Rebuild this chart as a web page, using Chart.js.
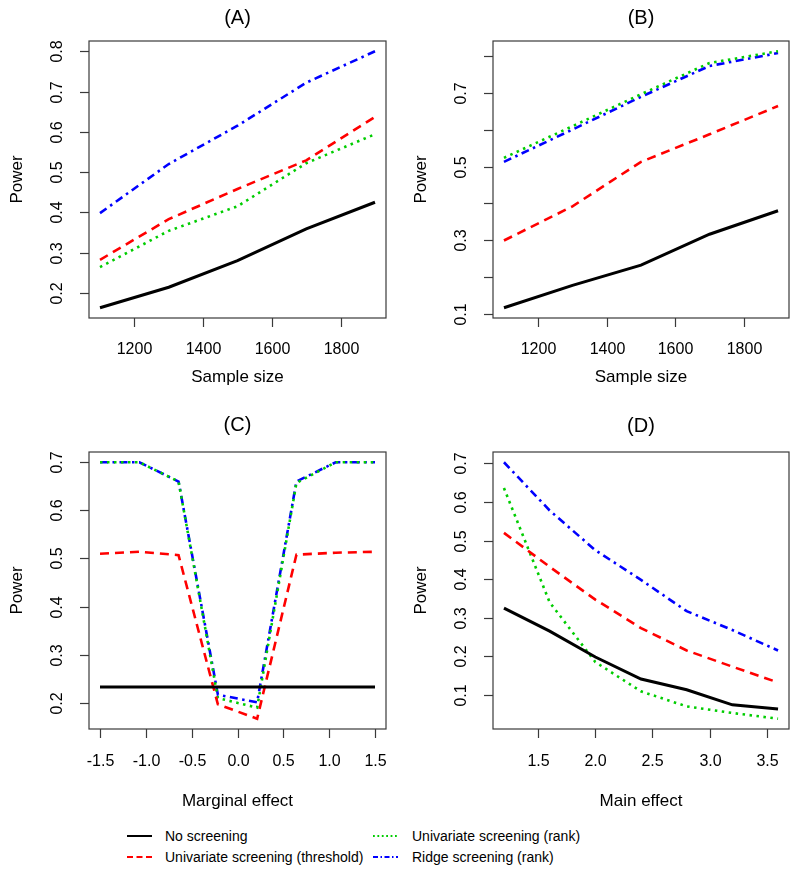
<!DOCTYPE html>
<html><head><meta charset="utf-8">
<script src="https://cdn.jsdelivr.net/npm/chart.js@4"></script>
<style>
body{margin:0;background:#fff;width:800px;height:877px;position:relative;overflow:hidden;font-family:"Liberation Sans",Arial,sans-serif}
canvas{position:absolute}
.item{position:absolute;font-size:14px;line-height:16px;color:#000;white-space:nowrap}
svg{position:absolute}
</style></head><body>
<canvas id="cA" width="400" height="400" style="left:0;top:0"></canvas>
<canvas id="cB" width="400" height="400" style="left:400px;top:0"></canvas>
<canvas id="cC" width="400" height="420" style="left:0;top:400px"></canvas>
<canvas id="cD" width="400" height="420" style="left:400px;top:400px"></canvas>

<svg width="800" height="60" style="left:0;top:820px">
  <line x1="127" y1="16" x2="152" y2="16" stroke="#000" stroke-width="2"/>
  <line x1="127" y1="37" x2="152" y2="37" stroke="#ff0000" stroke-width="2" stroke-dasharray="6 3.5"/>
  <line x1="373" y1="16" x2="398" y2="16" stroke="#00cd00" stroke-width="2" stroke-dasharray="1.8 2.6"/>
  <line x1="373" y1="37" x2="398" y2="37" stroke="#0000ff" stroke-width="2" stroke-dasharray="5 2.5 1.5 2.5"/>
</svg>
<div class="item" style="left:165px;top:828px">No screening</div>
<div class="item" style="left:165px;top:849px">Univariate screening (threshold)</div>
<div class="item" style="left:412px;top:828px">Univariate screening (rank)</div>
<div class="item" style="left:412px;top:849px">Ridge screening (rank)</div>

<script>
// (A) and (B): power against sample size
const sampleSizes=[1100,1300,1500,1700,1900];
const aNone=[0.163,0.214,0.280,0.359,0.425];
const aThresh=[0.282,0.383,0.458,0.529,0.637];
const aRank=[0.264,0.354,0.415,0.522,0.594];
const aRidge=[0.398,0.520,0.615,0.722,0.800];

const bNone=[0.116,0.177,0.232,0.316,0.380];
const bThresh=[0.299,0.392,0.513,0.588,0.665];
const bRank=[0.524,0.610,0.697,0.782,0.814];
const bRidge=[0.513,0.601,0.690,0.774,0.809];

// (C): power against marginal effect
const marginal=[-1.5,-1.071,-0.643,-0.214,0.214,0.643,1.071,1.5];
const cNone=[0.233,0.233,0.233,0.233,0.233,0.233,0.233,0.233];
const cThresh=[0.510,0.514,0.507,0.197,0.167,0.508,0.512,0.514];
const cRank=[0.700,0.700,0.660,0.210,0.190,0.657,0.700,0.700];
const cRidge=[0.700,0.700,0.660,0.217,0.201,0.660,0.700,0.700];

// (D): power against main effect
const mainEff=[1.2,1.6,2.0,2.4,2.8,3.2,3.6];
const dNone=[0.325,0.265,0.198,0.141,0.113,0.074,0.063];
const dThresh=[0.520,0.432,0.347,0.273,0.215,0.173,0.132];
const dRank=[0.636,0.340,0.185,0.109,0.070,0.053,0.038];
const dRidge=[0.703,0.578,0.475,0.398,0.317,0.268,0.215];

// tick positions
const sizeTicks=[1200,1400,1600,1800];
const aYTicks=[0.2,0.3,0.4,0.5,0.6,0.7,0.8];
const bYTicks=[0.1,0.2,0.3,0.4,0.5,0.6,0.7,0.8];
const bYLabels=[0.1,0.3,0.5,0.7];
const cXTicks=[-1.5,-1.0,-0.5,0.0,0.5,1.0,1.5];
const cYTicks=[0.2,0.3,0.4,0.5,0.6,0.7];
const dXTicks=[1.5,2.0,2.5,3.0,3.5];
const dYTicks=[0.1,0.2,0.3,0.4,0.5,0.6,0.7];

const FONT='"Liberation Sans", Arial, sans-serif';

// R-style box, outward ticks and rotated y labels
const rAxes={
  id:'rAxes',
  afterDraw(chart,args,o){
    const ctx=chart.ctx,a=chart.chartArea,xs=chart.scales.x,ys=chart.scales.y;
    ctx.save();
    ctx.strokeStyle='#3a3a3a';ctx.lineWidth=1.2;
    ctx.strokeRect(a.left,a.top,a.right-a.left,a.bottom-a.top);
    ctx.fillStyle='#000';
    ctx.font='16px '+FONT;
    ctx.textAlign='center';ctx.textBaseline='middle';
    o.xTicks.forEach(v=>{
      const px=Math.round(xs.getPixelForValue(v))+0.5;
      ctx.beginPath();ctx.moveTo(px,a.bottom);ctx.lineTo(px,a.bottom+9);ctx.stroke();
      ctx.fillText(v.toFixed(o.xDec),px,a.bottom+o.xLab);
    });
    const shown=o.yLabels||o.yTicks;
    o.yTicks.forEach(v=>{
      const py=Math.round(ys.getPixelForValue(v))+0.5;
      ctx.beginPath();ctx.moveTo(a.left-9,py);ctx.lineTo(a.left,py);ctx.stroke();
      if(shown.some(s=>Math.abs(s-v)<1e-9)){
        ctx.save();ctx.translate(a.left-31,py);ctx.rotate(-Math.PI/2);
        ctx.fillText(v.toFixed(1),0,0);ctx.restore();
      }
    });
    ctx.font='17px '+FONT;
    ctx.fillText(o.xTitle,(a.left+a.right)/2,a.bottom+o.xTit);
    ctx.save();ctx.translate(a.left-72,(a.top+a.bottom)/2);ctx.rotate(-Math.PI/2);
    ctx.fillText('Power',0,0);ctx.restore();
    ctx.font='20px '+FONT;
    ctx.fillText(o.main,(a.left+a.right)/2,o.mainY);
    ctx.restore();
  }
};

function pts(xs,ys){return xs.map((x,i)=>({x:x,y:ys[i]}));}
function range(arr){
  const lo=Math.min(...arr),hi=Math.max(...arr),pad=(hi-lo)*0.04;
  return [lo-pad,hi+pad];
}

function panel(id,xv,series,pad,ax){
  const xr=range(xv),yr=range([].concat(...series));
  const styles=[
    {c:'#000000',d:[]},
    {c:'#ff0000',d:[9,6]},
    {c:'#00cd00',d:[2.5,4.5]},
    {c:'#0000ff',d:[8,4.5,2.5,4.5]}
  ];
  new Chart(document.getElementById(id),{
    type:'line',
    data:{datasets:series.map((s,i)=>({
      data:pts(xv,s),borderColor:styles[i].c,borderDash:styles[i].d,
      borderWidth:i===0?3:2.6,pointRadius:0,tension:0,fill:false
    }))},
    options:{
      responsive:false,animation:false,
      layout:{padding:pad},
      scales:{
        x:{type:'linear',display:false,min:xr[0],max:xr[1]},
        y:{type:'linear',display:false,min:yr[0],max:yr[1]}
      },
      plugins:{legend:{display:false},tooltip:{enabled:false},rAxes:ax}
    },
    plugins:[rAxes]
  });
}

panel('cA',sampleSizes,[aNone,aThresh,aRank,aRidge],
  {left:89,right:14,top:41,bottom:82},
  {xTicks:sizeTicks,xDec:0,yTicks:aYTicks,xTitle:'Sample size',main:'(A)',mainY:18,xLab:32,xTit:59});
panel('cB',sampleSizes,[bNone,bThresh,bRank,bRidge],
  {left:93,right:11,top:41,bottom:82},
  {xTicks:sizeTicks,xDec:0,yTicks:bYTicks,yLabels:bYLabels,xTitle:'Sample size',main:'(B)',mainY:18,xLab:32,xTit:59});
panel('cC',marginal,[cNone,cThresh,cRank,cRidge],
  {left:89,right:14,top:52,bottom:91},
  {xTicks:cXTicks,xDec:1,yTicks:cYTicks,xTitle:'Marginal effect',main:'(C)',mainY:25,xLab:33,xTit:72});
panel('cD',mainEff,[dNone,dThresh,dRank,dRidge],
  {left:93,right:11,top:52,bottom:91},
  {xTicks:dXTicks,xDec:1,yTicks:dYTicks,xTitle:'Main effect',main:'(D)',mainY:26,xLab:33,xTit:72});
</script>
</body></html>
